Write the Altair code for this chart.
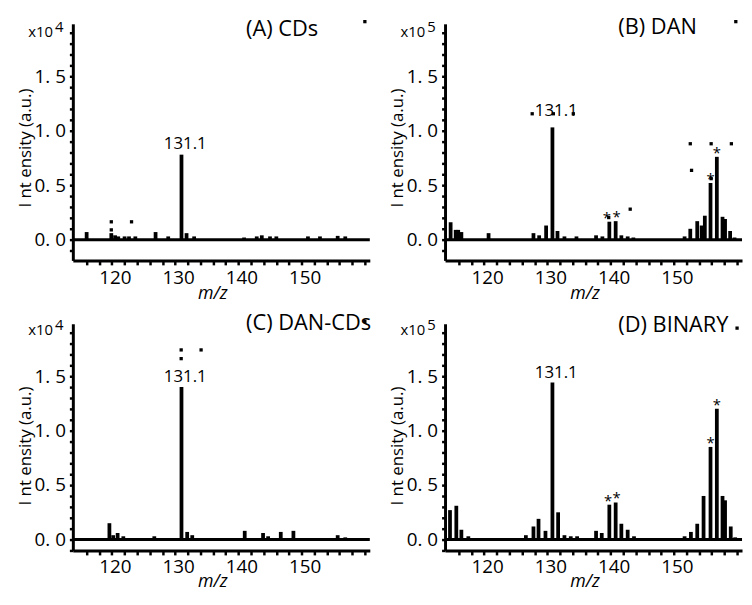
import altair as alt
import pandas as pd

FONT = "Open Sans"

# ---------------- data ----------------
# (A) CDs  -- intensity in units of 10^4
A_MZ = [116.0, 119.9, 120.5, 121.0, 122.0, 122.7, 123.7, 126.9, 128.9, 131.0, 131.8, 133.0,
        140.9, 142.9, 143.7, 145.0, 146.0, 151.0, 152.9, 155.7, 156.9]
A_INT = [0.07, 0.06, 0.04, 0.03, 0.03, 0.03, 0.03, 0.07, 0.03, 0.78, 0.06, 0.03,
         0.02, 0.03, 0.04, 0.03, 0.03, 0.03, 0.03, 0.035, 0.03]
A_STAR_MZ = []
A_STAR_INT = []
A_DOT_MZ = [119.9, 123.1, 119.9, 160.0]
A_DOT_INT = [0.164, 0.164, 0.09, 2.0]

# (B) DAN  -- intensity in units of 10^5
B_MZ = [114.7, 115.5, 115.9, 116.4, 120.7, 127.8, 128.7, 129.8, 130.8, 131.6, 132.7, 134.6,
        137.7, 138.7, 139.8, 140.8, 141.7, 142.7, 143.6, 151.7, 152.6, 153.7, 154.4, 154.9,
        155.8, 156.8, 157.7, 158.1, 158.9, 159.6]
B_INT = [0.16, 0.09, 0.09, 0.07, 0.06, 0.06, 0.04, 0.13, 1.03, 0.08, 0.03, 0.03,
         0.04, 0.03, 0.165, 0.17, 0.04, 0.03, 0.02, 0.03, 0.10, 0.17, 0.13, 0.22,
         0.52, 0.76, 0.21, 0.19, 0.08, 0.02]
B_STAR_MZ = [139.4, 140.95, 155.8, 156.8]
B_STAR_INT = [0.165, 0.17, 0.52, 0.76]
B_DOT_MZ = [127.6, 130.95, 134.1, 152.6, 155.9, 159.1, 152.8, 143.1, 139.7, 155.9, 159.8]
B_DOT_INT = [1.155, 1.155, 1.155, 0.88, 0.88, 0.88, 0.636, 0.28, 0.203, 0.56, 2.0]

# (C) DAN-CDs  -- intensity in units of 10^4
C_MZ = [119.6, 120.2, 120.9, 121.8, 126.7, 131.0, 131.9, 132.7, 141.0, 143.9, 144.7,
        146.7, 148.7, 155.7, 156.9]
C_INT = [0.15, 0.04, 0.06, 0.03, 0.03, 1.40, 0.07, 0.04, 0.08, 0.06, 0.03,
         0.07, 0.08, 0.04, 0.02]
C_STAR_MZ = []
C_STAR_INT = []
C_DOT_MZ = [130.95, 130.95, 134.1, 160.0]
C_DOT_INT = [1.74, 1.66, 1.74, 2.0]

# (D) BINARY  -- intensity in units of 10^5
D_MZ = [114.6, 115.6, 116.4, 117.5, 126.6, 127.8, 128.6, 129.7, 130.8, 131.7, 132.7, 133.7,
        134.7, 137.7, 138.6, 139.8, 140.8, 141.7, 142.7, 143.7, 151.7, 152.7, 153.7, 154.7,
        155.8, 156.8, 157.7, 158.1, 159.0, 159.7]
D_INT = [0.27, 0.31, 0.09, 0.03, 0.04, 0.12, 0.19, 0.08, 1.44, 0.25, 0.04, 0.03,
         0.03, 0.08, 0.06, 0.32, 0.34, 0.145, 0.09, 0.03, 0.03, 0.07, 0.145, 0.40,
         0.85, 1.20, 0.40, 0.36, 0.12, 0.02]
D_STAR_MZ = [139.6, 140.95, 155.8, 156.8]
D_STAR_INT = [0.32, 0.34, 0.85, 1.20]
D_DOT_MZ = [160.0]
D_DOT_INT = [1.94]

PEAK_LABEL = "131.1"
X_TICKS = list(range(116, 161, 2))
Y_TICKS = [round(-0.1 + 0.1 * i, 1) for i in range(21)]

W = 300


# ---------------- axes ----------------
def x_axis(title_y, pad):
    return alt.Axis(
        values=X_TICKS,
        labelExpr="datum.value % 10 == 0 && datum.value < 160 ? format(datum.value, 'd') : ''",
        grid=False, domainColor="black", domainWidth=3,
        tickColor="black", tickWidth=2.5, tickSize=4.5,
        labelFont=FONT, labelFontSize=19, labelColor="black", labelPadding=pad,
        labelOffset=3, labelOverlap=False, labelFlush=False,
        title="m/z", titleFont=FONT, titleFontSize=18, titleFontStyle="italic",
        titleFontWeight="normal", titleColor="black", titleX=141, titleY=title_y,
        titleBaseline="alphabetic", titleAlign="center",
    )


def y_axis(title_y):
    return alt.Axis(
        values=Y_TICKS,
        labelExpr="datum.value >= 0 && abs(datum.value * 2 - round(datum.value * 2)) < 0.001 ? "
                  "replace(format(datum.value, '.1f'), '.', '. ') : ''",
        grid=False, domainColor="black", domainWidth=3,
        tickColor="black", tickWidth=2.5, tickSize=3.5,
        labelFont=FONT, labelFontSize=19, labelColor="black", labelPadding=4,
        labelOverlap=False, labelFlush=False,
        title="I nt ensity (a.u.)", titleFont=FONT, titleFontSize=17,
        titleFontWeight="normal", titleColor="black", titleX=-48, titleY=title_y,
        titleAngle=270, titleBaseline="middle", titleAlign="center",
    )


XS = alt.Scale(domain=[114.6, 160.0], nice=False, zero=False)
TOP_ROW = dict(ydom=[-0.19, 1.98], h=239, xtitle_y=38, xpad=4, ytitle_y=125)
BOTTOM_ROW = dict(ydom=[-0.10, 1.98], h=229, xtitle_y=36, xpad=3, ytitle_y=123)


def panel(mz, inten, star_mz, star_int, dot_mz, dot_int, lab_mz, lab_int, lab_gap,
          title, exponent, title_y, exp_y, row):
    xenc = alt.X("mz:Q", scale=XS, axis=x_axis(row["xtitle_y"], row["xpad"]))
    yenc = alt.Y("v:Q", scale=alt.Scale(domain=row["ydom"], nice=False, zero=False),
                 axis=y_axis(row["ytitle_y"]))

    bars = alt.Chart(pd.DataFrame({"mz": mz, "v": inten})).mark_bar(
        size=3.8, color="black").encode(x=xenc, y=yenc, y2=alt.datum(0))
    base = alt.Chart(pd.DataFrame({"v": [0.0]})).mark_rule(
        strokeWidth=3, color="black").encode(y=yenc)
    layers = [base, bars]
    if dot_mz:
        layers.append(alt.Chart(pd.DataFrame({"mz": dot_mz, "v": dot_int})).mark_square(
            size=11, color="black", opacity=1).encode(x=xenc, y=yenc))
    if star_mz:
        layers.append(alt.Chart(pd.DataFrame({"mz": star_mz, "v": star_int, "t": ["*"] * len(star_mz)}))
                      .mark_text(font=FONT, fontSize=15, color="black", baseline="alphabetic", dy=1)
                      .encode(x=xenc, y=yenc, text="t:N"))
    layers.append(alt.Chart(pd.DataFrame({"mz": [lab_mz], "v": [lab_int], "t": [PEAK_LABEL]}))
                  .mark_text(font=FONT, fontSize=17, color="black", baseline="alphabetic", dy=-lab_gap)
                  .encode(x=xenc, y=yenc, text="t:N"))
    layers.append(alt.Chart(pd.DataFrame({"t": [title]})).mark_text(
        font=FONT, fontSize=22, color="black", align="left", baseline="middle")
        .encode(x=alt.value(175), y=alt.value(title_y), text="t:N"))
    layers.append(alt.Chart(pd.DataFrame({"t": ["x10"]})).mark_text(
        font=FONT, fontSize=15, color="black", align="right", baseline="alphabetic")
        .encode(x=alt.value(-20), y=alt.value(exp_y), text="t:N"))
    layers.append(alt.Chart(pd.DataFrame({"t": [exponent]})).mark_text(
        font=FONT, fontSize=15, color="black", align="left", baseline="alphabetic")
        .encode(x=alt.value(-18), y=alt.value(exp_y - 5), text="t:N"))
    return alt.layer(*layers).properties(width=W, height=row["h"])


pa = panel(A_MZ, A_INT, A_STAR_MZ, A_STAR_INT, A_DOT_MZ, A_DOT_INT, 131.6, 0.78, 6,
           "(A) CDs", "4", 5, 13, TOP_ROW)
pb = panel(B_MZ, B_INT, B_STAR_MZ, B_STAR_INT, B_DOT_MZ, B_DOT_INT, 131.4, 1.03, 12,
           "(B) DAN", "5", 3, 13, TOP_ROW)
pc = panel(C_MZ, C_INT, C_STAR_MZ, C_STAR_INT, C_DOT_MZ, C_DOT_INT, 131.6, 1.40, 5,
           "(C) DAN-CDs", "4", -1, 11, BOTTOM_ROW)
pd_ = panel(D_MZ, D_INT, D_STAR_MZ, D_STAR_INT, D_DOT_MZ, D_DOT_INT, 131.4, 1.44, 5,
            "(D) BINARY", "5", 1, 11, BOTTOM_ROW)

chart = alt.concat(pa, pb, pc, pd_, columns=2, spacing={"row": 64, "column": 76},
                   bounds="flush").configure_view(strokeWidth=0).properties(
    padding={"left": 8.5, "top": 5, "right": 0, "bottom": 0})

chart.save("out.html", embed_options={"renderer": "svg", "actions": False})
